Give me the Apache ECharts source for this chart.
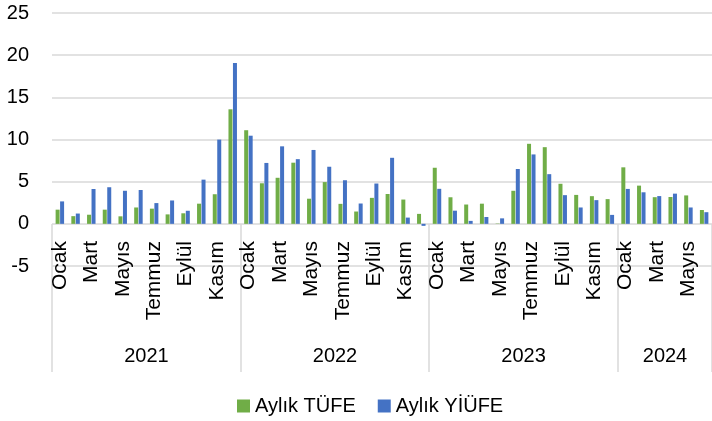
<!DOCTYPE html>
<html>
<head>
<meta charset="utf-8">
<script src="https://cdn.jsdelivr.net/npm/echarts@6/dist/echarts.min.js"></script>
<style>
html,body{margin:0;padding:0;background:#fff;}
#c{width:712px;height:421px;}
</style>
</head>
<body>
<div id="c"></div>
<script>
var years = ['2021', '2022', '2023', '2024'];
var monthsPerYear = [12, 12, 12, 6];
var monthNames = ['Ocak', 'Şubat', 'Mart', 'Nisan', 'Mayıs', 'Haziran', 'Temmuz', 'Ağustos', 'Eylül', 'Ekim', 'Kasım', 'Aralık'];
var yTicks = [-5, 0, 5, 10, 15, 20, 25];

var tufe = [
  1.68, 0.91, 1.08, 1.68, 0.89, 1.94, 1.80, 1.12, 1.25, 2.39, 3.51, 13.58,
  11.10, 4.81, 5.46, 7.25, 2.98, 4.95, 2.37, 1.46, 3.08, 3.54, 2.88, 1.18,
  6.65, 3.15, 2.29, 2.39, 0.04, 3.92, 9.49, 9.09, 4.75, 3.43, 3.28, 2.93,
  6.70, 4.53, 3.16, 3.18, 3.37, 1.64
];
var yiufe = [
  2.66, 1.22, 4.13, 4.34, 3.92, 4.01, 2.46, 2.77, 1.55, 5.24, 9.99, 19.08,
  10.45, 7.22, 9.19, 7.67, 8.76, 6.77, 5.17, 2.41, 4.78, 7.83, 0.74, -0.24,
  4.15, 1.56, 0.35, 0.81, 0.65, 6.50, 8.23, 5.89, 3.40, 1.94, 2.81, 1.06,
  4.14, 3.74, 3.29, 3.58, 1.94, 1.38
];

// build category lists
var monthCats = [], yearCats = [], yearStart = {}, yearLabelIdx = {};
var idx = 0;
years.forEach(function (y, k) {
  yearStart[idx] = true;
  yearLabelIdx[idx + monthsPerYear[k] / 2 - 1] = y;
  for (var m = 0; m < monthsPerYear[k]; m++) {
    monthCats.push(monthNames[m]);
    yearCats.push(y);
    idx++;
  }
});

var FONT = 'Liberation Sans';
var GRID = '#d9d9d9';
var chart = echarts.init(document.getElementById('c'), null, {renderer: 'canvas'});
chart.setOption({
  animation: false,
  backgroundColor: '#fff',
  textStyle: {fontFamily: FONT},
  grid: {left: 52, top: 13, width: 663, height: 253, containLabel: false},
  legend: {
    left: 232, top: 391,
    itemWidth: 13, itemHeight: 13, itemGap: 22,
    icon: 'rect',
    textStyle: {fontFamily: FONT, fontSize: 20, color: '#000'},
    data: ['Aylık TÜFE', 'Aylık YİÜFE']
  },
  xAxis: [{
    type: 'category',
    data: monthCats,
    boundaryGap: true,
    position: 'bottom',
    axisLine: {show: false, onZero: false},
    axisTick: {
      show: true, length: 106,
      interval: function (i) { return !!yearStart[i]; },
      lineStyle: {color: GRID, width: 1.5}
    },
    axisLabel: {
      interval: 1, rotate: 90, margin: -25,
      fontFamily: FONT, fontSize: 21, color: '#000'
    },
    splitLine: {show: false}
  }, {
    type: 'category',
    data: yearCats,
    position: 'bottom',
    boundaryGap: true,
    axisLine: {show: false, onZero: false},
    axisTick: {
      show: true, inside: true, length: 42,
      interval: function (i) { return !!yearStart[i]; },
      lineStyle: {color: GRID, width: 1.5}
    },
    axisLabel: {
      interval: function (i) { return yearLabelIdx[i] !== undefined; },
      margin: 80,
      padding: [0, 0, 0, 16],
      fontFamily: FONT, fontSize: 20, color: '#000'
    }
  }],
  yAxis: {
    type: 'value',
    min: yTicks[0], max: yTicks[yTicks.length - 1], interval: 5,
    axisLine: {show: false},
    axisTick: {show: false},
    axisLabel: {margin: 23, fontFamily: FONT, fontSize: 20, color: '#000'},
    splitLine: {lineStyle: {color: GRID, width: 1.5}}
  },
  series: [{
    name: 'Aylık TÜFE',
    type: 'bar',
    data: tufe,
    barWidth: 4,
    barGap: '12%',
    itemStyle: {color: '#70AD47'}
  }, {
    name: 'Aylık YİÜFE',
    type: 'bar',
    data: yiufe,
    barWidth: 4,
    barGap: '12%',
    itemStyle: {color: '#4472C4'}
  }]
});
</script>
</body>
</html>
